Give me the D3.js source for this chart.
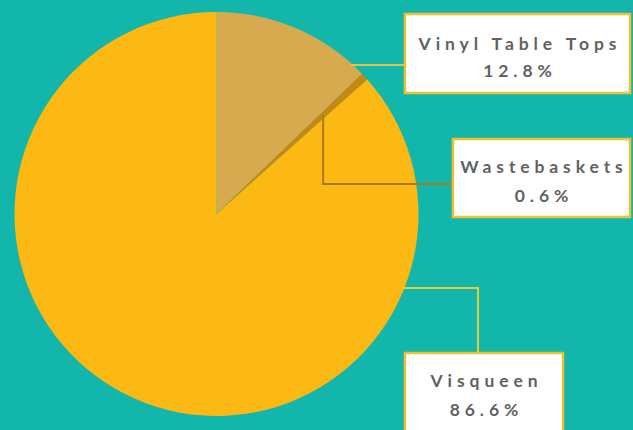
<!DOCTYPE html>
<html>
<head>
<meta charset="utf-8">
<script src="https://cdn.jsdelivr.net/npm/d3@7/dist/d3.min.js"></script>
<style>
  html, body { margin: 0; padding: 0; background: #13b6aa; }
  svg { display: block; }
</style>
</head>
<body>
<svg id="chart" width="633" height="430"></svg>
<script>
// ---- data ----
const categories = ["Vinyl Table Tops", "Wastebaskets", "Visqueen"];
const values = [12.8, 0.6, 86.6];
const valueLabels = ["12.8%", "0.6%", "86.6%"];
const colors = ["#d8aa50", "#c48a10", "#fdb913"];
const lineColors = ["#e2c24a", "#a87a18", "#e6cc3c"];

// ---- layout ----
const W = 633, H = 430;
const cx = 216.5, cy = 214, R = 202;

const svg = d3.select("#chart");
svg.append("rect").attr("width", W).attr("height", H).attr("fill", "#13b6aa");

const pie = d3.pie().sort(null).value(d => d)(values);
const arc = d3.arc().innerRadius(0).outerRadius(R);

const g = svg.append("g").attr("transform", `translate(${cx},${cy})`);
g.selectAll("path.slice")
  .data(pie)
  .join("path")
  .attr("class", "slice")
  .attr("d", arc)
  .attr("fill", (d, i) => colors[i]);

// helper: point on circle at angle (radians, clockwise from top) and radius
const polar = (a, r) => [cx + r * Math.sin(a), cy - r * Math.cos(a)];
// point on circle with given y on right side
const atY = (y) => [cx + Math.sqrt(R * R - (y - cy) * (y - cy)), y];

// label boxes (x, y, w, h)
const boxes = [
  [405, 14, 225, 79],
  [453, 139, 177, 78],
  [405, 353, 158, 90]
];

// leader polylines
const leaders = [];
{
  const p = atY(65);
  leaders.push([[p[0] - 2, 65], [boxes[0][0], 65]]);
}
{
  const mid = (pie[1].startAngle + pie[1].endAngle) / 2;
  const p = polar(mid, R * 0.72);
  const x = p[0];
  leaders.push([[x, p[1]], [x, 184], [boxes[1][0], 184]]);
}
{
  const p = atY(288);
  leaders.push([[p[0] - 2, 288], [478, 288], [478, boxes[2][1]]]);
}

const line = d3.line();
svg.selectAll("path.leader")
  .data(leaders)
  .join("path")
  .attr("class", "leader")
  .attr("d", d => line(d))
  .attr("fill", "none")
  .attr("stroke", (d, i) => lineColors[i])
  .attr("stroke-width", 2);

const lineOffsets = [[50, 77], [173, 202], [387, 416]];

boxes.forEach((b, i) => {
  svg.append("rect")
    .attr("x", b[0]).attr("y", b[1])
    .attr("width", b[2]).attr("height", b[3])
    .attr("fill", "#ffffff")
    .attr("stroke", "#f0c030")
    .attr("stroke-width", 2.5);
  const tx = b[0] + b[2] / 2 + 2.5;
  const t = svg.append("text")
    .attr("text-anchor", "middle")
    .attr("font-family", "Lato, 'Open Sans', sans-serif")
    .attr("font-size", 17.5)
    .attr("font-weight", 700)
    .attr("letter-spacing", "4.9px")
    .attr("fill", "#626262");
  t.append("tspan").attr("x", tx).attr("y", lineOffsets[i][0]).text(categories[i]);
  t.append("tspan").attr("x", tx).attr("y", lineOffsets[i][1]).text(valueLabels[i]);
});
</script>
</body>
</html>
